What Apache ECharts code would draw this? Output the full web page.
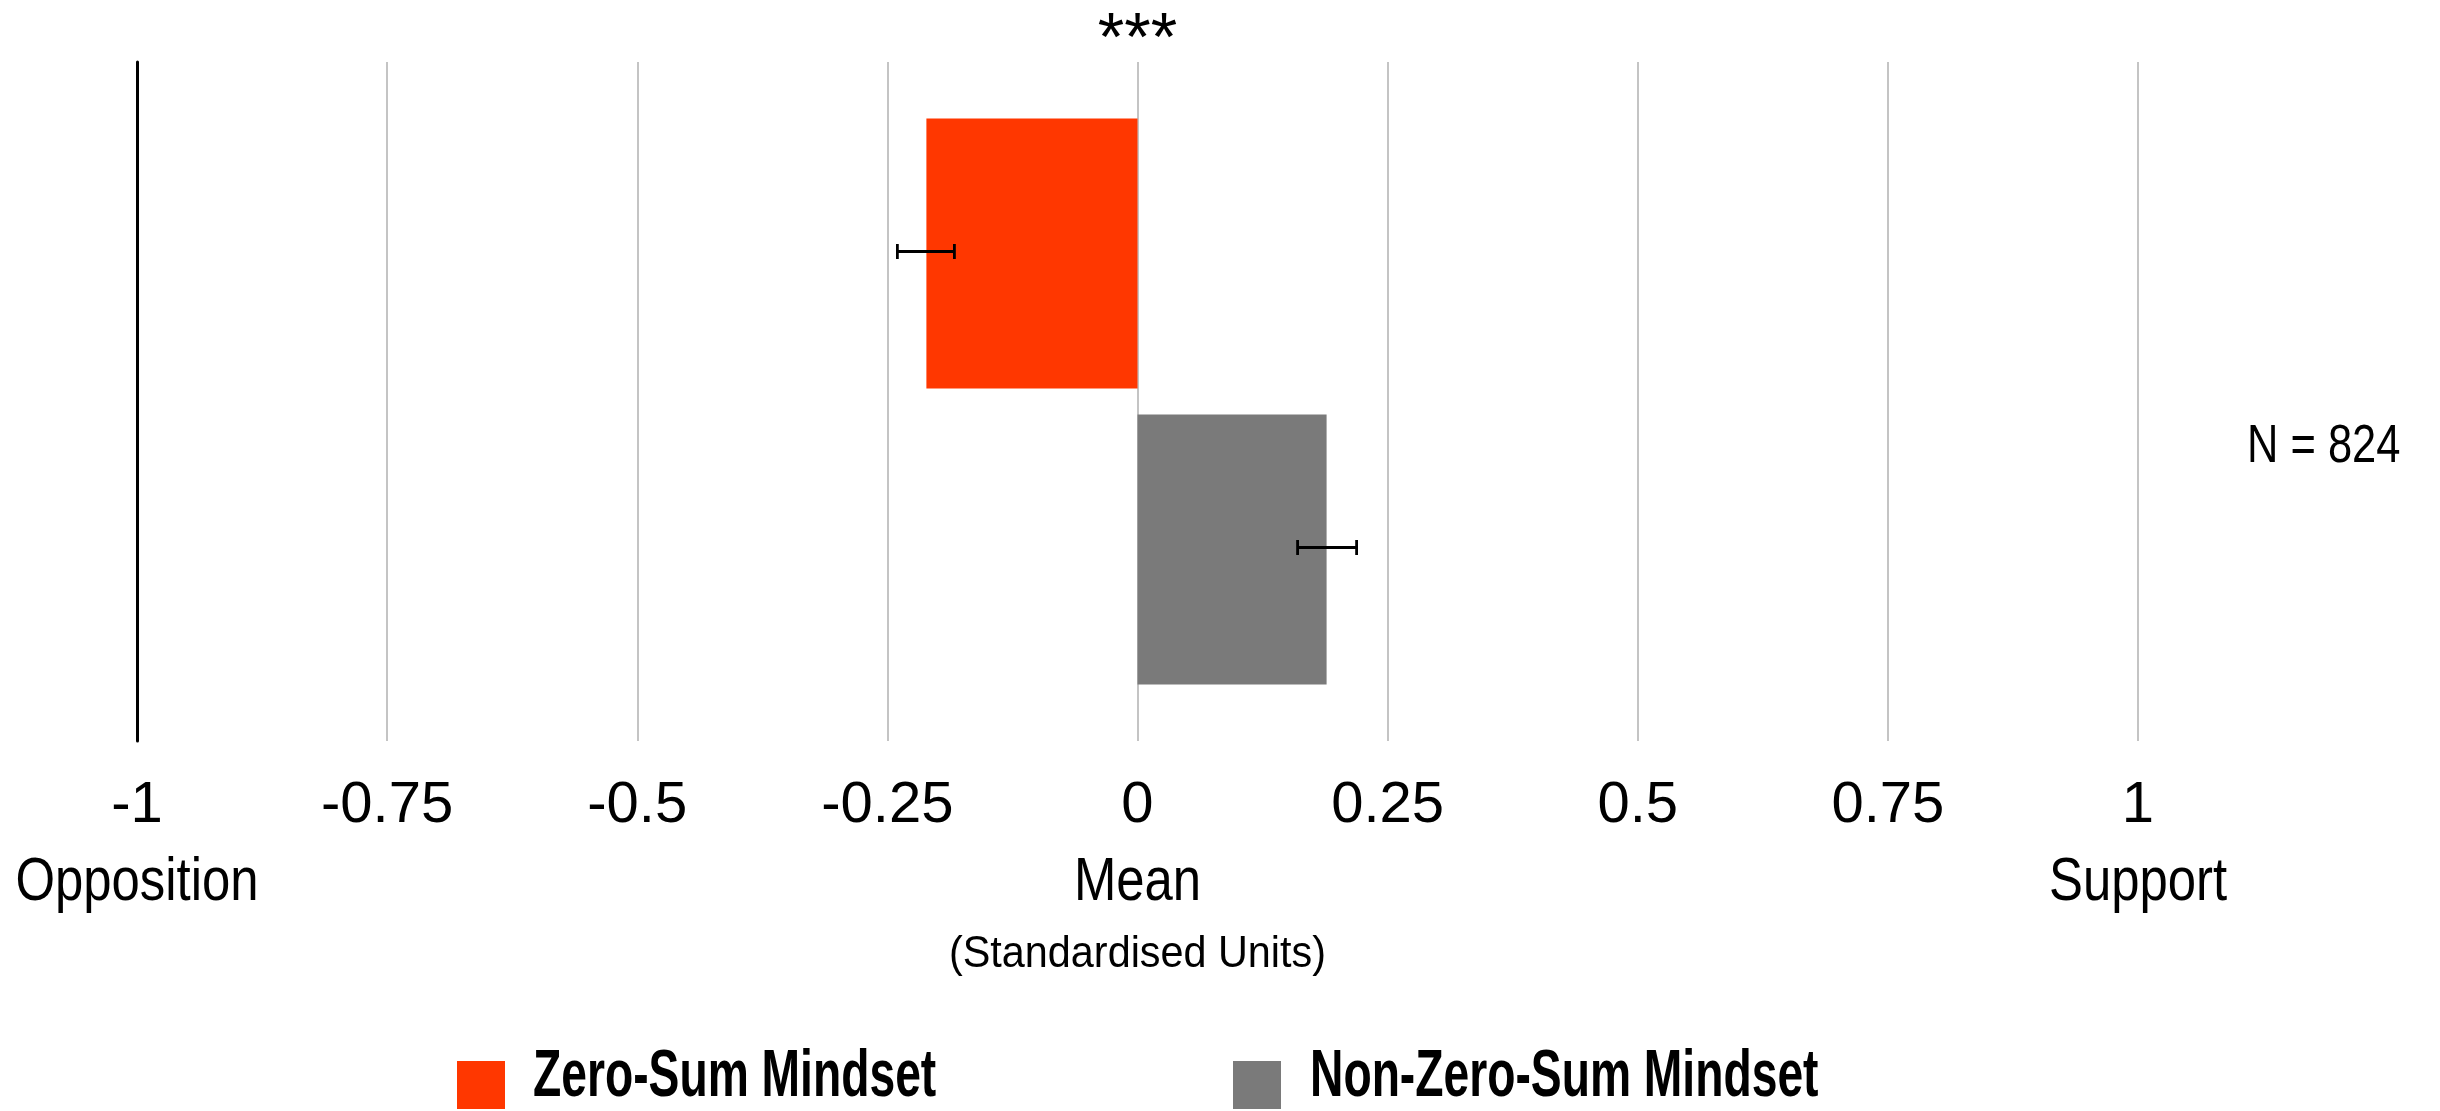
<!DOCTYPE html>
<html><head><meta charset="utf-8">
<script src="https://cdn.jsdelivr.net/npm/echarts@6/dist/echarts.min.js"></script>
<style>html,body{margin:0;padding:0;background:#fff}#c{width:2440px;height:1111px}</style>
</head><body><div id="c"></div>
<script>
// ---- data ----
const categories = ['Mindset'];
const seriesNames = ['Zero-Sum Mindset', 'Non-Zero-Sum Mindset'];
const zeroSumMean = [-0.211];
const nonZeroSumMean = [0.189];
const zeroSumCI = [[-0.240, -0.183]];
const nonZeroSumCI = [[0.160, 0.219]];
const xTickMin = -1, xTickMax = 1, xTickStep = 0.25;
const tickNameValues = [-1, 0, 1];
const tickNames = ['Opposition', 'Mean', 'Support'];
const subName = '(Standardised Units)';
const significance = '***';
const sampleNote = 'N = 824';

// ---- styles ----
const RED = '#FF3700', GREY = '#7A7A7A';
const ARIAL = '"Liberation Sans", Arial, sans-serif';
const CAT_GAP = 0.1664, BAR_GAP = 0.096;

const chart = echarts.init(document.getElementById('c'), null, {renderer: 'canvas'});

function errData(ci, k) {
  return ci.map((r, i) => [r[0], r[1], i, k]);
}
function renderErr(params, api) {
  const lo = api.value(0), hi = api.value(1), cat = api.value(2), k = api.value(3);
  const band = api.size([0, 1])[1];
  const usable = band * (1 - CAT_GAP);
  const bw = usable / (2 + BAR_GAP);
  const off = (bw + bw * BAR_GAP) / 2 * (k === 0 ? -1 : 1);
  const c = api.coord([0, cat])[1] + off - 2;
  const x1 = api.coord([lo, cat])[0], x2 = api.coord([hi, cat])[0];
  const h = 7.5;
  const st = {stroke: '#000', lineWidth: 2.8};
  return {type: 'group', children: [
    {type: 'line', shape: {x1: x1, y1: c, x2: x2, y2: c}, style: st},
    {type: 'line', shape: {x1: x1, y1: c - h, x2: x1, y2: c + h}, style: st},
    {type: 'line', shape: {x1: x2, y1: c - h, x2: x2, y2: c + h}, style: st}
  ]};
}

const legendCommon = {
  padding: 0, itemWidth: 48, itemHeight: 48, icon: 'rect', top: 1061,
  formatter: function () { return ''; },
  textStyle: {fontSize: 10}
};

const option = {
  backgroundColor: '#fff',
  animation: false,
  grid: {left: 137, right: 302, top: 62, bottom: 370, containLabel: false, outerBoundsMode: 'none'},
  xAxis: {
    type: 'value', min: xTickMin, max: xTickMax, interval: xTickStep,
    axisLine: {show: false}, axisTick: {show: false},
    splitLine: {show: true, lineStyle: {color: '#C4C4C4', width: 2}},
    axisLabel: {
      margin: 36, color: '#000', fontFamily: ARIAL, fontSize: 58,
      showMinLabel: true, showMaxLabel: true,
      formatter: function (v) { return String(v); }
    }
  },
  yAxis: {
    type: 'category', data: categories, inverse: true,
    axisLine: {show: true, onZero: false, lineStyle: {color: '#000', width: 3}},
    axisTick: {show: false}, axisLabel: {show: false}, splitLine: {show: false}
  },
  legend: [
    Object.assign({data: [seriesNames[0]], left: 457}, legendCommon),
    Object.assign({data: [seriesNames[1]], left: 1233}, legendCommon)
  ],
  series: [
    {name: seriesNames[0], type: 'bar', data: zeroSumMean, itemStyle: {color: RED},
     barCategoryGap: (CAT_GAP * 100) + '%', barGap: (BAR_GAP * 100) + '%'},
    {name: seriesNames[1], type: 'bar', data: nonZeroSumMean, itemStyle: {color: GREY},
     barCategoryGap: (CAT_GAP * 100) + '%', barGap: (BAR_GAP * 100) + '%'},
    {name: 'err0', type: 'custom', renderItem: renderErr, data: errData(zeroSumCI, 0),
     encode: {x: [0, 1], y: 2}, z: 10, clip: false},
    {name: 'err1', type: 'custom', renderItem: renderErr, data: errData(nonZeroSumCI, 1),
     encode: {x: [0, 1], y: 2}, z: 10, clip: false}
  ]
};
chart.setOption(option);

function px(v) { return chart.convertToPixel({gridIndex: 0}, [v, 0]); }
const zeroPx = px(0);
const graphics = [
  {type: 'text', x: zeroPx[0], y: 41, z: 20,
   style: {text: significance, font: '68px ' + ARIAL, fill: '#000', textAlign: 'center', textVerticalAlign: 'middle'}},
  {type: 'text', x: 2247, y: 447, z: 20, scaleX: 0.82,
   style: {text: sampleNote, font: '53px ' + ARIAL, fill: '#000', textAlign: 'left', textVerticalAlign: 'middle'}},
  {type: 'text', x: zeroPx[0], y: 955, z: 20, scaleX: 0.94,
   style: {text: subName, font: '44px ' + ARIAL, fill: '#000', textAlign: 'center', textVerticalAlign: 'middle'}},
  {type: 'text', x: 533, y: 1078, z: 20, scaleX: 0.69,
   style: {text: seriesNames[0], font: 'bold 67px ' + ARIAL, fill: '#000', textAlign: 'left', textVerticalAlign: 'middle'}},
  {type: 'text', x: 1310, y: 1078, z: 20, scaleX: 0.69,
   style: {text: seriesNames[1], font: 'bold 67px ' + ARIAL, fill: '#000', textAlign: 'left', textVerticalAlign: 'middle'}}
];
tickNameValues.forEach(function (v, i) {
  graphics.push({type: 'text', x: px(v)[0], y: 883, z: 20, scaleX: 0.82,
    style: {text: tickNames[i], font: '62px ' + ARIAL, fill: '#000', textAlign: 'center', textVerticalAlign: 'middle'}});
});
chart.setOption({graphic: graphics});
</script></body></html>
